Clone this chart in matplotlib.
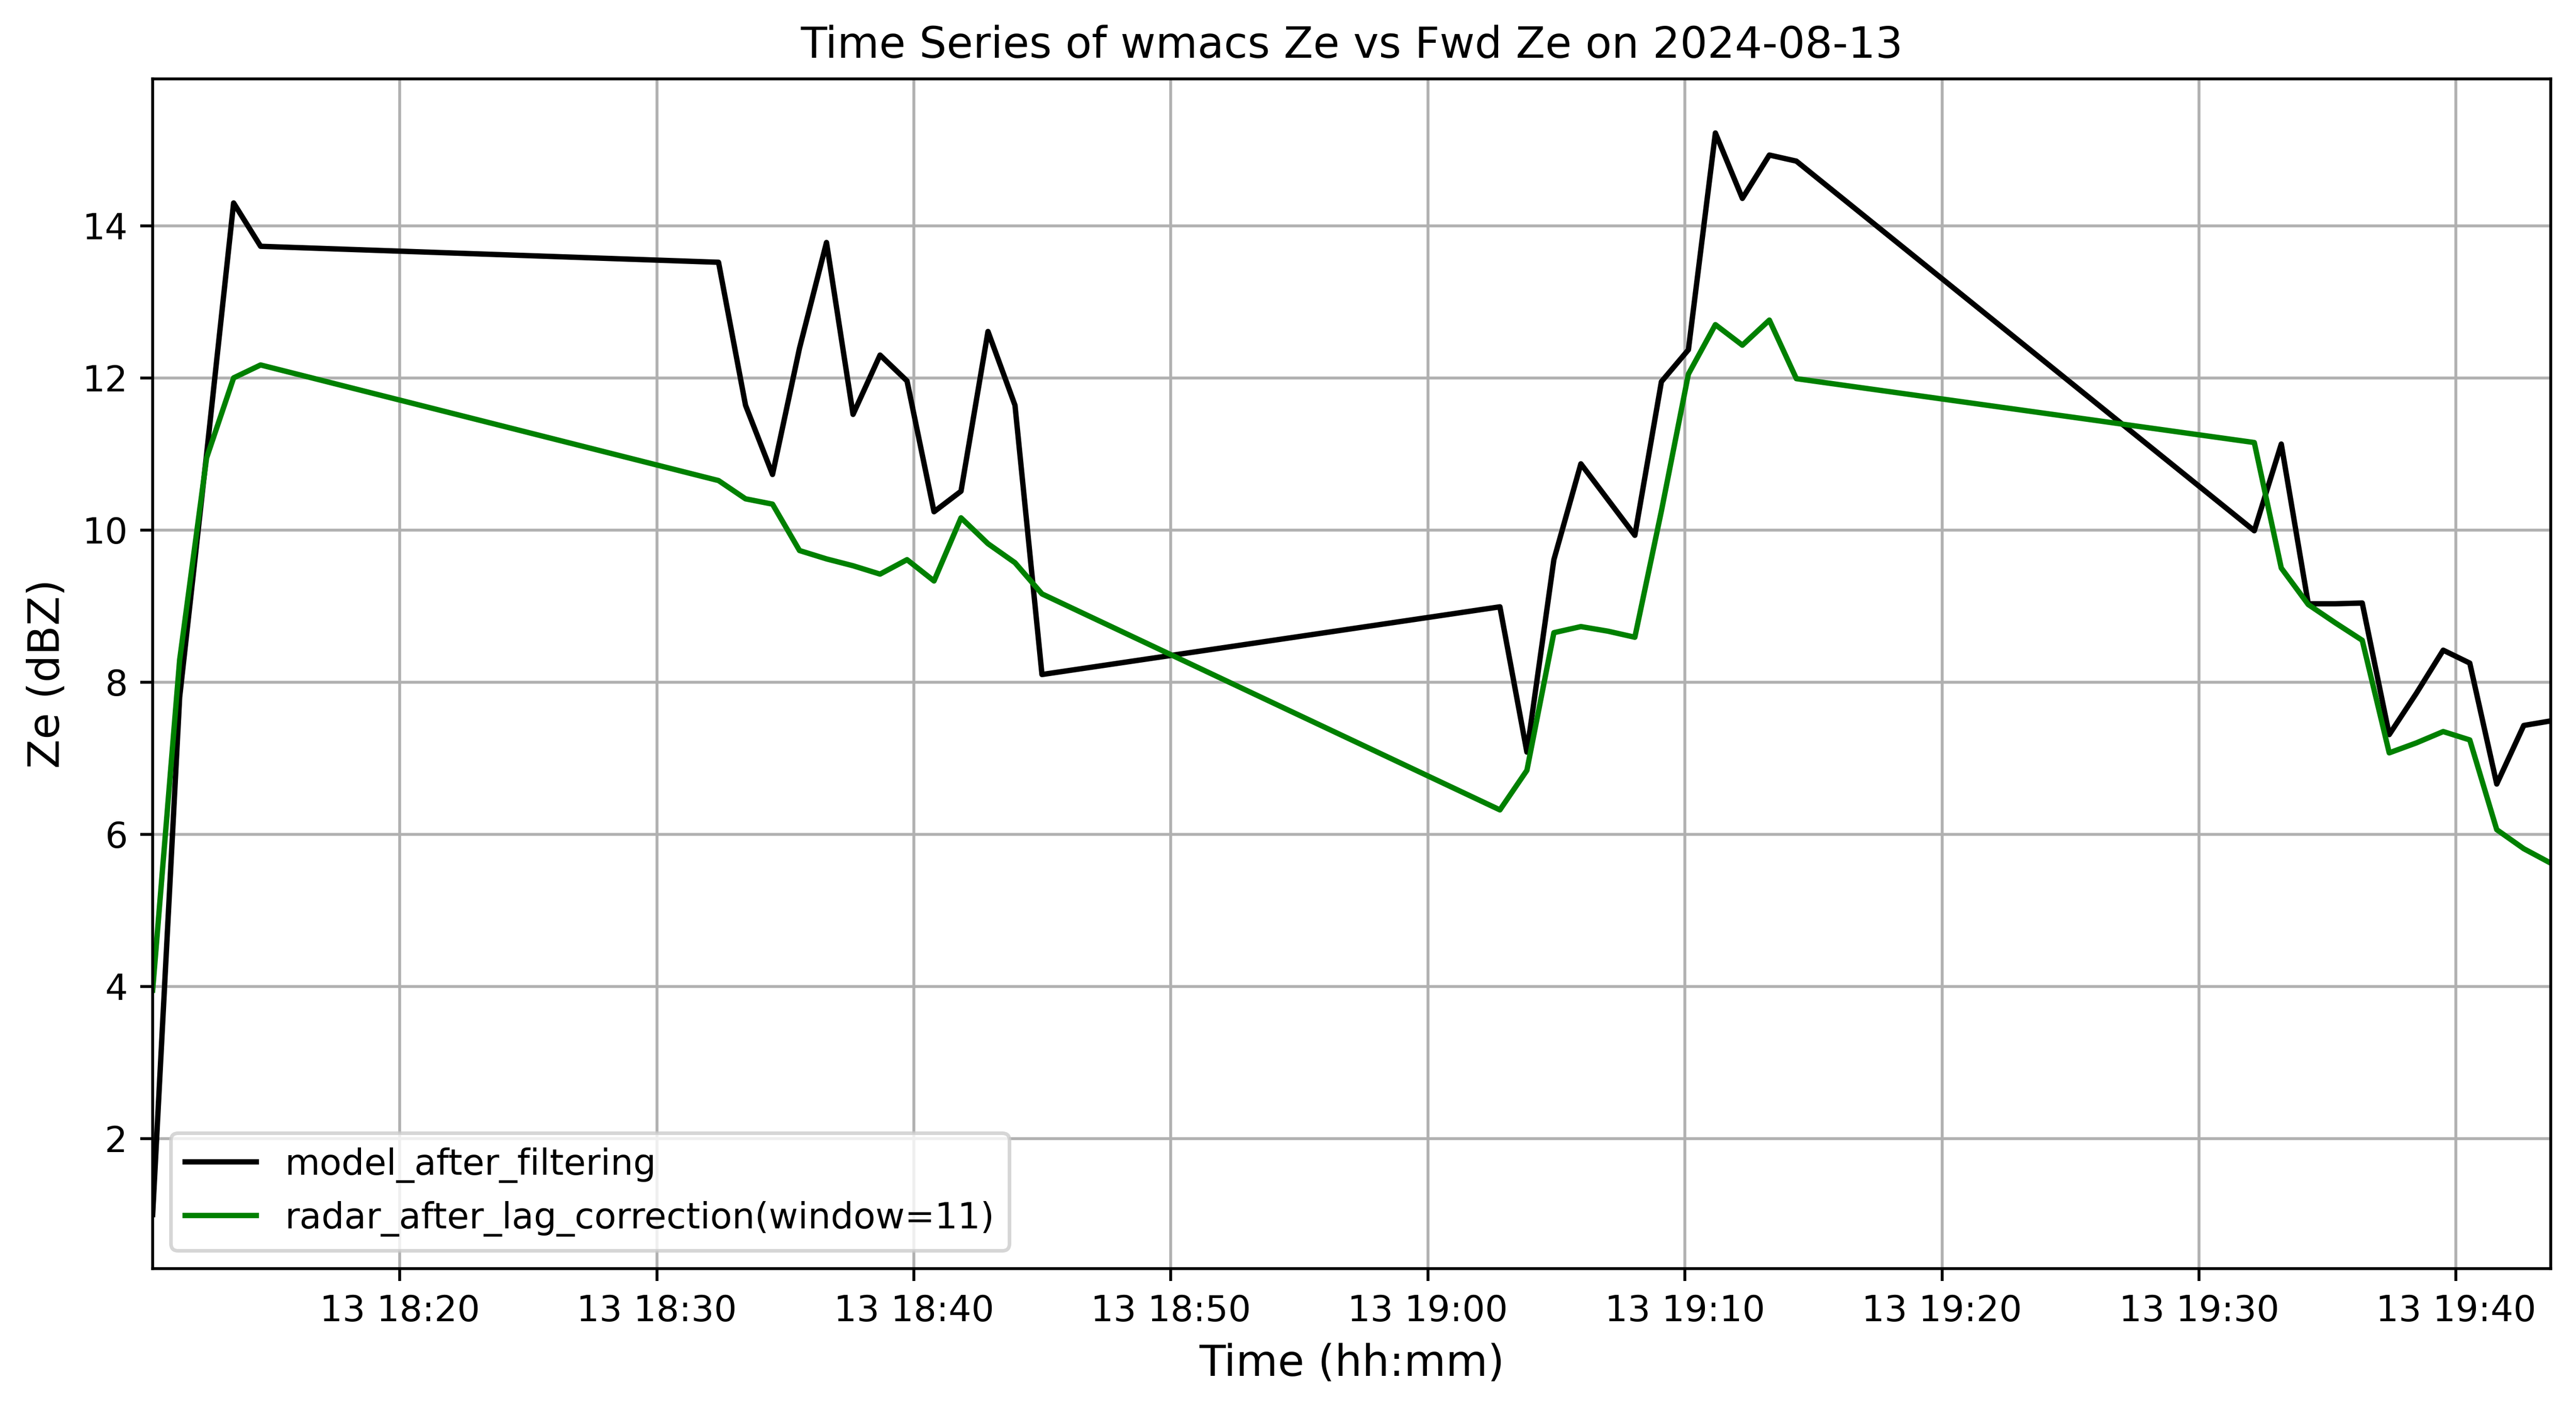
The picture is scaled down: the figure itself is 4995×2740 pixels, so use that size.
import matplotlib
matplotlib.use("Agg")
import matplotlib.pyplot as plt
import matplotlib.dates as mdates
import pandas as pd

times = [
    "18:10:23", "18:11:26", "18:12:29", "18:13:32", "18:14:35",
    "18:32:24", "18:33:27", "18:34:30", "18:35:33", "18:36:36", "18:37:38",
    "18:38:41", "18:39:44", "18:40:47", "18:41:50", "18:42:53", "18:43:56", "18:44:59",
    "19:02:48", "19:03:51", "19:04:54", "19:05:57", "19:07:00", "19:08:03",
    "19:09:05", "19:10:08", "19:11:11", "19:12:14", "19:13:17", "19:14:20",
    "19:32:09", "19:33:12", "19:34:15", "19:35:18", "19:36:21", "19:37:24",
    "19:38:27", "19:39:30", "19:40:32", "19:41:35", "19:42:38", "19:43:41",
]

model_after_filtering = [
    1.0, 7.8, 11.0, 14.3, 13.73,
    13.52, 11.64, 10.73, 12.39, 13.78, 11.52,
    12.30, 11.96, 10.24, 10.51, 12.61, 11.64, 8.10,
    8.99, 7.08, 9.61, 10.87, 10.40, 9.93,
    11.95, 12.37, 15.22, 14.36, 14.93, 14.85,
    9.99, 11.13, 9.03, 9.03, 9.04, 7.31,
    7.85, 8.42, 8.25, 6.66, 7.43, 7.49,
]

radar_after_lag_correction = [
    3.95, 8.29, 10.95, 12.0, 12.17,
    10.65, 10.41, 10.34, 9.73, 9.62, 9.53,
    9.42, 9.61, 9.33, 10.16, 9.82, 9.57, 9.16,
    6.32, 6.84, 8.65, 8.73, 8.67, 8.59,
    10.25, 12.05, 12.70, 12.43, 12.76, 11.99,
    11.15, 9.50, 9.02, 8.78, 8.55, 7.07,
    7.20, 7.35, 7.24, 6.06, 5.81, 5.62,
]

t = pd.to_datetime(["2024-08-13 " + s for s in times])

DPI = 500
fig = plt.figure(figsize=(4995 / DPI, 2740 / DPI), dpi=DPI)
ax = fig.add_axes([296 / 4995, 1 - 2460 / 2740, (4946 - 296) / 4995, (2460 - 153) / 2740])

ax.plot(t, model_after_filtering, color="black", linewidth=1.5, label="model_after_filtering")
ax.plot(t, radar_after_lag_correction, color="green", linewidth=1.5,
        label="radar_after_lag_correction(window=11)")

ax.set_xlim(t[0], t[-1])
ax.xaxis.set_major_locator(mdates.MinuteLocator(byminute=range(0, 60, 10)))
ax.xaxis.set_major_formatter(mdates.DateFormatter("%d %H:%M"))
ax.tick_params(axis="both", labelsize=10)
ax.grid(True)

ax.set_title("Time Series of wmacs Ze vs Fwd Ze on 2024-08-13", fontsize=12)
ax.set_xlabel("Time (hh:mm)", fontsize=12)
ax.set_ylabel("Ze (dBZ)", fontsize=12)
ax.legend(loc="lower left", fontsize=10)

fig.savefig("out.png", dpi=DPI)
